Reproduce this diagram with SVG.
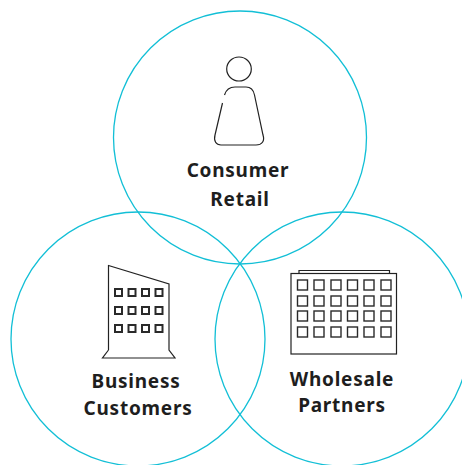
<svg xmlns="http://www.w3.org/2000/svg" width="462" height="465" viewBox="0 0 462 465">
<style>
.c{fill:none;stroke:#12bfd6;stroke-width:1.3}
.i{fill:none;stroke:#222;stroke-width:1.2}
.w{fill:none;stroke:#2a2a2a}
.t{font-family:"Noto Sans",sans-serif;font-weight:700;font-size:19px;letter-spacing:.75px;fill:#1e1e1e;text-anchor:middle}
</style>
<defs>
<rect id="a" width="7" height="7" class="w" style="stroke-width:2"/>
<rect id="b" width="10" height="10" class="w" style="stroke-width:1.4"/>
</defs>
<g id="connectors"></g>
<g id="consumer">
<circle class="c" cx="240" cy="137.500" r="126.500"/>
<ellipse class="i" cx="239" cy="69" rx="12.300" ry="12"/>
<path class="i" d="M224.500 95 C226 90 230 87 235 87 L246 87 C251 87 253.500 90 254.500 95 L263 135 C265 141 262 145 256 145 L221 145 C216 145 213.500 141 215 135 L222.500 103"/>
<text class="t" x="238" y="177">Consumer</text>
<text class="t" x="240" y="206">Retail</text>
</g>
<g id="business">
<circle class="c" cx="138" cy="339" r="127"/>
<path class="i" d="M108.500 350 L108.500 265.500 L169 284 L169 350 L175 358 L102.500 358 L108.500 350"/>
<use href="#a" x="115" y="289"/><use href="#a" x="128.500" y="289"/><use href="#a" x="142" y="289"/><use href="#a" x="155.500" y="289"/>
<use href="#a" x="115" y="307"/><use href="#a" x="128.500" y="307"/><use href="#a" x="142" y="307"/><use href="#a" x="155.500" y="307"/>
<use href="#a" x="115" y="325"/><use href="#a" x="128.500" y="325"/><use href="#a" x="142" y="325"/><use href="#a" x="155.500" y="325"/>
<text class="t" x="136" y="388">Business</text>
<text class="t" x="138" y="415">Customers</text>
</g>
<g id="wholesale">
<circle class="c" cx="342" cy="339" r="127"/>
<path class="i" d="M299 273 L299 270.500 L389.500 270.500 L389.500 273"/>
<rect class="i" x="291" y="273.500" width="105.500" height="80.500"/>
<g id="windows">
<use href="#b" x="297.500" y="280"/><use href="#b" x="314" y="280"/><use href="#b" x="331" y="280"/><use href="#b" x="347.500" y="280"/><use href="#b" x="364" y="280"/><use href="#b" x="381" y="280"/>
<use href="#b" x="297.500" y="296"/><use href="#b" x="314" y="296"/><use href="#b" x="331" y="296"/><use href="#b" x="347.500" y="296"/><use href="#b" x="364" y="296"/><use href="#b" x="381" y="296"/>
<use href="#b" x="297.500" y="311"/><use href="#b" x="314" y="311"/><use href="#b" x="331" y="311"/><use href="#b" x="347.500" y="311"/><use href="#b" x="364" y="311"/><use href="#b" x="381" y="311"/>
<use href="#b" x="297.500" y="327"/><use href="#b" x="314" y="327"/><use href="#b" x="331" y="327"/><use href="#b" x="347.500" y="327"/><use href="#b" x="364" y="327"/><use href="#b" x="381" y="327"/>
</g>
<text class="t" x="342" y="386">Wholesale</text>
<text class="t" x="342" y="412">Partners</text>
</g>
</svg>
